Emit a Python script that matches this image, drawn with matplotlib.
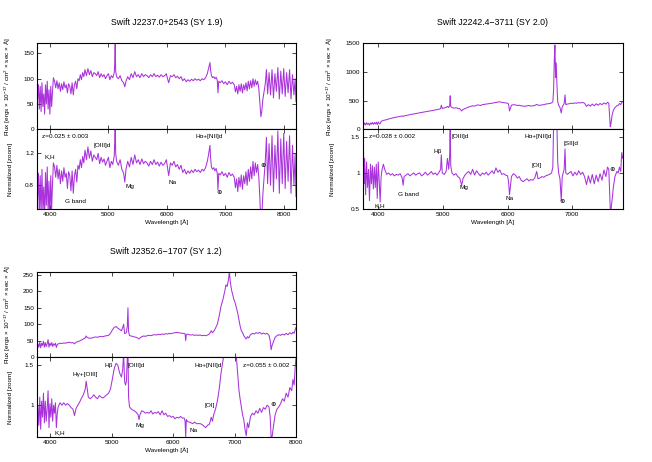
import matplotlib
matplotlib.use("Agg")
import matplotlib.pyplot as plt

# Swift J2237.0+2543 (SY 1.9): Wellenlaenge, Fluss, normiertes Spektrum
wl_a = [3775, 3790, 3805, 3820, 3835, 3850, 3865, 3880, 3895, 3910,
        3925, 3940, 3955, 3970, 3985, 4000, 4015, 4030, 4045, 4060,
        4080, 4100, 4120, 4140, 4160, 4180, 4200, 4220, 4240, 4260,
        4280, 4300, 4320, 4340, 4360, 4380, 4400, 4420, 4440, 4460,
        4480, 4500, 4520, 4540, 4560, 4580, 4600, 4625, 4650, 4675,
        4700, 4725, 4750, 4775, 4800, 4825, 4850, 4875, 4900, 4925,
        4950, 4975, 5000, 5025, 5050, 5075, 5100, 5108, 5116, 5124,
        5140, 5170, 5200, 5230, 5260, 5280, 5300, 5330, 5360, 5390,
        5420, 5450, 5480, 5510, 5540, 5570, 5600, 5630, 5660, 5690,
        5720, 5750, 5780, 5810, 5840, 5870, 5900, 5930, 5960, 5990,
        6010, 6030, 6060, 6090, 6120, 6150, 6180, 6210, 6240, 6270,
        6300, 6330, 6360, 6390, 6420, 6450, 6480, 6510, 6540, 6570,
        6600, 6630, 6660, 6690, 6710, 6725, 6735, 6745, 6760, 6780,
        6800, 6820, 6840, 6860, 6872, 6885, 6910, 6940, 6970, 7000,
        7030, 7060, 7090, 7120, 7150, 7170, 7190, 7210, 7230, 7250,
        7270, 7290, 7310, 7330, 7350, 7370, 7390, 7410, 7430, 7450,
        7470, 7490, 7510, 7530, 7550, 7570, 7590, 7605, 7620, 7640,
        7660, 7680, 7700, 7720, 7745, 7770, 7795, 7820, 7845, 7870,
        7895, 7920, 7945, 7970, 7995, 8020, 8045, 8070, 8095, 8120,
        8145, 8170, 8190, 8205]
flux_a = [112, 60, 88, 40, 85, 35, 92, 45, 70, 30,
          88, 50, 95, 40, 78, 30, 85, 45, 75, 102,
          95, 82, 96, 80, 92, 75, 90, 78, 94, 82,
          88, 72, 90, 85, 70, 92, 68, 88, 95, 80,
          100, 96, 108, 98, 112, 104, 118, 106, 120, 108,
          116, 104, 112, 110, 106, 114, 102, 110, 104, 108,
          100, 106, 110, 98, 106, 102, 112, 130, 168, 115,
          104, 100, 106, 96, 92, 84, 95, 104, 98, 110,
          102, 114, 104, 108, 102, 110, 104, 108, 106, 102,
          108, 104, 110, 104, 107, 103, 108, 104, 106, 110,
          100, 92, 106, 104, 108, 102, 105, 100, 104, 96,
          100, 94, 98, 95, 99, 96, 100, 97, 99, 96,
          100, 98, 102, 110, 120, 128, 132, 118, 106, 102,
          104, 100, 103, 97, 72, 95, 92, 96, 90, 94,
          88, 95, 90, 93, 88, 74, 85, 70, 88, 75,
          90, 72, 88, 78, 92, 76, 95, 80, 96, 82,
          100, 85, 98, 88, 95, 80, 50, 25, 35, 60,
          75, 90, 118, 70, 112, 68, 118, 62, 110, 75,
          122, 60, 115, 70, 120, 65, 112, 72, 118, 60,
          108, 68, 100, 55]
norm_a = [1.22, 0.62, 0.95, 0.45, 0.92, 0.4, 1.0, 0.5, 0.78, 0.35,
          0.96, 0.55, 1.03, 0.45, 0.85, 0.33, 0.92, 0.5, 0.82, 1.08,
          1.03, 0.9, 1.05, 0.88, 1.0, 0.82, 0.98, 0.85, 1.02, 0.9,
          0.95, 0.76, 0.97, 0.92, 0.73, 0.98, 0.7, 0.92, 1.0, 0.84,
          1.05, 1.0, 1.12, 1.02, 1.16, 1.08, 1.24, 1.12, 1.28, 1.14,
          1.23, 1.1, 1.18, 1.15, 1.12, 1.2, 1.07, 1.15, 1.09, 1.13,
          1.05, 1.1, 1.15, 1.02, 1.1, 1.06, 1.17, 1.35, 1.7, 1.2,
          1.1, 1.05, 1.12, 1.0, 0.95, 0.84, 1.0, 1.1, 1.03, 1.15,
          1.06, 1.18, 1.08, 1.12, 1.06, 1.13, 1.07, 1.1, 1.08, 1.04,
          1.1, 1.06, 1.12, 1.06, 1.09, 1.04, 1.09, 1.05, 1.07, 1.12,
          1.02, 0.92, 1.08, 1.05, 1.1, 1.03, 1.06, 1.0, 1.05, 0.96,
          1.0, 0.94, 0.98, 0.95, 0.99, 0.96, 1.0, 0.97, 0.99, 0.96,
          1.0, 0.98, 1.02, 1.1, 1.18, 1.25, 1.3, 1.15, 1.03, 1.0,
          1.02, 0.98, 1.01, 0.95, 0.74, 0.95, 0.93, 0.97, 0.92, 0.95,
          0.9, 0.96, 0.92, 0.94, 0.9, 0.77, 0.88, 0.72, 0.9, 0.78,
          0.93, 0.75, 0.92, 0.82, 0.97, 0.8, 1.0, 0.85, 1.03, 0.88,
          1.1, 0.92, 1.08, 0.96, 1.06, 0.9, 0.6, 0.3, 0.4, 0.7,
          0.9, 1.1, 1.4, 0.82, 1.32, 0.8, 1.42, 0.72, 1.3, 0.88,
          1.48, 0.7, 1.38, 0.82, 1.45, 0.76, 1.35, 0.85, 1.42, 0.7,
          1.3, 0.8, 1.2, 0.66]

# Swift J2242.4-3711 (SY 2.0)
wl_b = [3760, 3770, 3780, 3790, 3805, 3820, 3835, 3850, 3865, 3880,
        3895, 3910, 3925, 3940, 3955, 3970, 3985, 4000, 4015, 4030,
        4045, 4060, 4080, 4100, 4130, 4160, 4190, 4220, 4250, 4280,
        4310, 4340, 4370, 4385, 4400, 4430, 4460, 4490, 4520, 4550,
        4580, 4610, 4640, 4670, 4700, 4730, 4760, 4790, 4820, 4850,
        4880, 4910, 4940, 4965, 4975, 4990, 5020, 5050, 5070, 5090,
        5105, 5113, 5121, 5140, 5170, 5200, 5230, 5260, 5290, 5310,
        5340, 5370, 5400, 5430, 5460, 5490, 5520, 5550, 5580, 5610,
        5640, 5670, 5700, 5730, 5760, 5790, 5820, 5850, 5880, 5910,
        5940, 5970, 6000, 6015, 6030, 6060, 6090, 6120, 6150, 6180,
        6210, 6240, 6270, 6300, 6330, 6360, 6390, 6420, 6450, 6470,
        6500, 6530, 6560, 6590, 6620, 6650, 6680, 6700, 6712, 6722,
        6732, 6742, 6752, 6762, 6775, 6790, 6810, 6830, 6845, 6860,
        6875, 6888, 6900, 6925, 6950, 6980, 7010, 7040, 7070, 7100,
        7130, 7160, 7190, 7220, 7250, 7280, 7310, 7340, 7370, 7400,
        7430, 7460, 7490, 7520, 7545, 7565, 7578, 7588, 7600, 7615,
        7635, 7660, 7690, 7710, 7730, 7750, 7765, 7780]
flux_b = [95, 120, 80, 110, 75, 115, 85, 105, 70, 110,
          90, 120, 85, 118, 92, 125, 80, 130, 100, 95,
          140, 145, 155, 160, 170, 180, 188, 198, 205, 212,
          220, 226, 232, 225, 235, 240, 248, 255, 262, 268,
          275, 280, 288, 294, 300, 306, 312, 318, 325, 330,
          338, 344, 350, 360, 420, 365, 372, 380, 400, 378,
          420, 585, 400, 380, 370, 375, 365, 360, 320, 345,
          360, 375, 390, 400, 410, 405, 420, 425, 415, 430,
          435, 440, 445, 450, 455, 462, 470, 475, 480, 470,
          465, 460, 455, 440, 320, 420, 430, 425, 415, 420,
          410, 405, 400, 410, 415, 405, 410, 415, 435, 420,
          420, 425, 430, 440, 445, 450, 460, 480, 700, 1200,
          1470, 900, 1160, 820, 480, 420, 380, 285, 390, 420,
          450, 600, 430, 440, 445, 455, 450, 460, 455, 465,
          460, 470, 455, 400, 430, 405, 440, 410, 445, 420,
          450, 430, 460, 440, 470, 455, 220, 45, 110, 240,
          330, 380, 410, 420, 450, 430, 470, 480]
norm_b = [1.3, 1.45, 0.85, 1.2, 0.7, 1.15, 0.8, 1.05, 0.62, 1.12,
          0.85, 1.1, 0.78, 1.08, 0.8, 1.12, 0.65, 1.15, 0.9, 0.6,
          0.95, 1.05, 1.12, 1.05, 0.98, 1.0, 0.97, 0.99, 0.96, 0.98,
          0.97, 0.99, 0.93, 0.83, 0.95, 0.97, 0.99, 0.96, 0.98, 1.0,
          0.97, 0.99, 1.0, 0.96, 0.98, 1.01, 0.97, 0.99, 1.02, 0.98,
          1.0, 0.97, 1.01, 1.05, 1.25, 1.0, 0.98, 1.02, 1.2, 1.05,
          1.25, 1.7, 1.1, 1.0, 0.97, 0.99, 0.95, 0.93, 0.83, 0.92,
          0.97, 1.0, 1.02, 0.98, 1.05, 0.97, 1.03, 0.99, 0.96, 1.0,
          0.98, 1.01, 0.97, 1.0, 1.03, 0.99, 1.07, 1.01, 1.04, 0.98,
          0.99, 0.97, 0.96, 0.88, 0.7, 0.95, 0.99, 0.97, 0.93, 0.95,
          0.9, 0.88, 0.9, 0.92, 0.89, 0.91, 0.9, 0.93, 1.02, 0.92,
          0.93, 0.95, 0.94, 0.96, 0.97, 0.98, 1.0, 1.08, 1.7, 1.7,
          1.7, 1.7, 1.7, 1.7, 1.15, 1.0, 0.92, 0.62, 0.95, 1.0,
          1.05, 1.33, 1.0, 0.98, 1.0, 1.02, 0.96, 1.01, 0.97, 1.03,
          0.98, 1.01, 0.95, 0.84, 0.96, 0.86, 0.98, 0.85, 0.97, 0.88,
          0.99, 0.9, 1.04, 0.95, 1.08, 1.05, 0.75, 0.5, 0.5, 0.62,
          0.8, 0.95, 1.02, 1.0, 1.08, 1.02, 1.28, 1.2]

# Swift J2352.6-1707 (SY 1.2)
wl_c = [3780, 3790, 3800, 3815, 3830, 3845, 3860, 3875, 3890, 3905,
        3920, 3935, 3950, 3965, 3980, 3995, 4010, 4025, 4040, 4055,
        4070, 4085, 4100, 4115, 4130, 4160, 4190, 4220, 4250, 4280,
        4310, 4340, 4370, 4395, 4420, 4450, 4480, 4510, 4540, 4570,
        4585, 4600, 4620, 4650, 4680, 4710, 4740, 4770, 4800, 4830,
        4860, 4890, 4920, 4950, 4980, 5010, 5040, 5070, 5100, 5130,
        5160, 5180, 5195, 5210, 5225, 5240, 5255, 5265, 5275, 5290,
        5310, 5340, 5370, 5400, 5430, 5445, 5460, 5490, 5520, 5550,
        5580, 5610, 5640, 5670, 5700, 5730, 5760, 5790, 5820, 5850,
        5880, 5910, 5940, 5970, 6000, 6030, 6060, 6090, 6120, 6150,
        6180, 6195, 6205, 6215, 6230, 6260, 6290, 6320, 6350, 6380,
        6410, 6440, 6470, 6500, 6530, 6560, 6590, 6620, 6640, 6660,
        6690, 6720, 6750, 6780, 6810, 6840, 6860, 6880, 6900, 6916,
        6930, 6950, 6970, 6990, 7010, 7030, 7050, 7070, 7090, 7110,
        7130, 7150, 7170, 7190, 7210, 7230, 7260, 7290, 7320, 7350,
        7380, 7410, 7440, 7470, 7500, 7530, 7560, 7580, 7595, 7610,
        7630, 7660, 7690, 7720, 7750, 7780, 7810, 7840, 7870, 7900,
        7930, 7950, 7970, 7985, 8000]
flux_c = [52, 22, 40, 30, 45, 28, 42, 35, 48, 30,
          44, 32, 40, 53, 30, 42, 35, 44, 32, 40,
          36, 42, 29, 38, 40, 42, 41, 43, 42, 44,
          45, 43, 44, 40, 45, 47, 49, 52, 55, 58,
          64, 60, 58, 57, 58, 60, 61, 60, 62, 63,
          62, 64, 65, 66, 72, 82, 90, 93, 88, 84,
          80, 90, 100, 72, 72, 75, 95, 150, 78, 66,
          64, 63, 61, 60, 57, 55, 58, 62, 64, 63,
          65, 66, 65, 67, 68, 67, 69, 68, 70, 69,
          71, 70, 72, 71, 73, 74, 75, 74, 73, 72,
          72, 70, 50, 68, 70, 68, 67, 68, 66, 67,
          66, 67, 65, 66, 65, 67, 70, 80, 74, 78,
          88, 100, 125, 155, 175, 200, 220, 215, 235, 260,
          230, 205, 190, 175, 165, 150, 135, 115, 95, 80,
          75, 65, 60, 55, 62, 58, 68, 72, 70, 74,
          72, 75, 70, 73, 70, 72, 66, 50, 22, 35,
          45, 60, 65, 68, 66, 70, 67, 72, 68, 74,
          70, 76, 72, 82, 90]
norm_c = [1.6, 0.6, 1.0, 0.75, 1.1, 0.7, 1.05, 0.85, 1.15, 0.78,
          1.05, 0.8, 0.95, 1.18, 0.72, 1.02, 0.85, 1.08, 0.8, 1.0,
          0.9, 1.03, 0.72, 0.9, 0.98, 1.03, 1.0, 1.03, 1.0, 1.02,
          1.0, 0.97, 0.95, 0.87, 0.96, 1.0, 1.04, 1.09, 1.13, 1.2,
          1.3, 1.22, 1.1, 1.08, 1.1, 1.13, 1.1, 1.08, 1.12, 1.1,
          1.09, 1.11, 1.13, 1.15, 1.2, 1.32, 1.45, 1.52, 1.5, 1.4,
          1.35, 1.45, 1.65, 1.3, 1.25, 1.3, 1.6, 1.7, 1.1, 0.98,
          0.96, 0.94, 0.93, 0.91, 0.88, 0.82, 0.88, 0.93, 0.92, 0.9,
          0.91, 0.9, 0.93, 0.89, 0.91, 0.9, 0.92, 0.88, 0.93, 0.88,
          0.9, 0.86, 0.87, 0.85, 0.86, 0.83, 0.85, 0.84, 0.86, 0.84,
          0.84, 0.8, 0.6, 0.82, 0.8, 0.79, 0.78, 0.77, 0.79, 0.77,
          0.77, 0.77, 0.76, 0.74, 0.72, 0.75, 0.76, 0.85, 0.8, 0.88,
          0.95, 1.05, 1.2, 1.4, 1.55, 1.7, 1.7, 1.7, 1.7, 1.7,
          1.7, 1.7, 1.7, 1.7, 1.7, 1.6, 1.4, 1.2, 1.08, 0.98,
          0.88, 0.82, 0.7, 0.62, 0.78, 0.72, 0.86, 0.9, 0.88, 0.93,
          0.9, 0.96, 0.91, 0.97, 0.95, 1.0, 0.98, 0.85, 0.6, 0.6,
          0.72, 0.88, 0.95, 0.98, 1.02, 1.08, 1.05, 1.15, 1.1, 1.22,
          1.18, 1.32, 1.25, 1.45, 1.6]

plt.rcParams['font.family'] = ['Liberation Sans', 'DejaVu Sans']
plt.rcParams['mathtext.default'] = 'regular'

VIOLET = '#9400d3'
FS = 4.6
W, H = 652.0, 462.0


def AxRect(left, top, right, bottom):
    # Pixelkoordinaten -> Figurenkoordinaten
    return [left / W, 1 - bottom / H, (right - left) / W, (bottom - top) / H]


def StyleAxis(ax):
    ax.tick_params(direction='in', top=True, right=True, length=3,
                   width=0.5, labelsize=FS, pad=2)
    for s in ax.spines.values():
        s.set_linewidth(0.8)


def DrawPanel(fig, left, right, top, mid, bottom, wl, flux, norm, xlim,
              ytop, ybot, xticks, yticks_top, yticks_bot, title, labels,
              ylab_off):
    axt = fig.add_axes(AxRect(left, top, right, mid))
    axb = fig.add_axes(AxRect(left, mid, right, bottom))
    axt.plot(wl, flux, color=VIOLET, lw=0.75, alpha=0.8)
    axb.plot(wl, norm, color=VIOLET, lw=0.75, alpha=0.8)
    for ax in (axt, axb):
        ax.set_xlim(*xlim)
        ax.set_xticks(xticks)
        StyleAxis(ax)
    axt.set_ylim(*ytop)
    axt.set_yticks(yticks_top)
    axt.set_xticklabels([])
    axb.set_ylim(*ybot)
    axb.set_yticks(yticks_bot)
    axb.set_yticklabels([('%g' % v) for v in yticks_bot])
    axt.set_ylabel('Flux [ergs $\\times$ 10$^{-17}$ / cm$^{2}$ $\\times$ sec $\\times$ Å]',
                   fontsize=FS)
    axb.set_ylabel('Normalized [zoom]', fontsize=FS)
    axt.yaxis.set_label_coords(-ylab_off / (right - left), 0.5)
    axb.yaxis.set_label_coords(-ylab_off / (right - left), 0.5)
    axb.set_xlabel('Wavelength [Å]', fontsize=FS, labelpad=2)
    axt.set_title(title, fontsize=6.3, pad=13)
    for txt, x, y, ha in labels:
        axb.text(x, y, txt, fontsize=FS, ha=ha, va='center')


fig = plt.figure(figsize=(6.52, 4.62), dpi=100)

DrawPanel(fig, 36.7, 296, 43.3, 129.3, 209.3, wl_a, flux_a, norm_a,
          (3775, 8205), (0, 170), (0.5, 1.5),
          [4000, 5000, 6000, 7000, 8000], [0, 50, 100, 150], [0.8, 1.2],
          'Swift J2237.0+2543 (SY 1.9)',
          [('z=0.025 ± 0.003', 3860, 1.41, 'left'),
           ('K,H', 4005, 1.16, 'center'),
           ('[OIII]d', 4900, 1.295, 'center'),
           ('G band', 4436, 0.595, 'center'),
           ('Mg', 5367, 0.78, 'center'),
           ('Na', 6094, 0.84, 'center'),
           ('Hα+[NII]d', 6714, 1.41, 'center'),
           ('⊕', 6893, 0.71, 'center'),
           ('⊕', 7646, 1.045, 'center')],
          23.7)

DrawPanel(fig, 362.7, 622.7, 43.3, 129.3, 209.3, wl_b, flux_b, norm_b,
          (3760, 7780), (0, 1500), (0.5, 1.6),
          [4000, 5000, 6000, 7000], [0, 500, 1000, 1500], [0.5, 1, 1.5],
          'Swift J2242.4\u22123711 (SY 2.0)',
          [('z=0.028 ± 0.002', 3862, 1.498, 'left'),
           ('K,H', 4032, 0.555, 'center'),
           ('G band', 4465, 0.697, 'center'),
           ('Hβ', 4921, 1.292, 'center'),
           ('[OIII]d', 5260, 1.498, 'center'),
           ('Mg', 5327, 0.797, 'center'),
           ('Na', 6025, 0.642, 'center'),
           ('[OI]', 6444, 1.1, 'center'),
           ('Hα+[NII]d', 6473, 1.498, 'center'),
           ('[SII]d', 6980, 1.398, 'center'),
           ('⊕', 6846, 0.605, 'center'),
           ('⊕', 7614, 1.05, 'center')],
          27.7)

DrawPanel(fig, 36.7, 296, 271.7, 357, 437.3, wl_c, flux_c, norm_c,
          (3780, 8000), (0, 260), (0.6, 1.6),
          [4000, 5000, 6000, 7000, 8000], [0, 50, 100, 150, 200, 250], [1, 1.5],
          'Swift J2352.6\u22121707 (SY 1.2)',
          [('K,H', 4163, 0.662, 'center'),
           ('Hγ+[OIII]', 4577, 1.388, 'center'),
           ('Hβ', 4946, 1.49, 'center'),
           ('[OIII]d', 5403, 1.49, 'center'),
           ('Mg', 5460, 0.745, 'center'),
           ('Na', 6336, 0.69, 'center'),
           ('[OI]', 6596, 1.0, 'center'),
           ('Hα+[NII]d', 6569, 1.49, 'center'),
           ('z=0.055 ± 0.002', 7891, 1.49, 'right'),
           ('⊕', 7631, 1.01, 'center')],
          23.7)

fig.savefig('out.png', dpi=100)
